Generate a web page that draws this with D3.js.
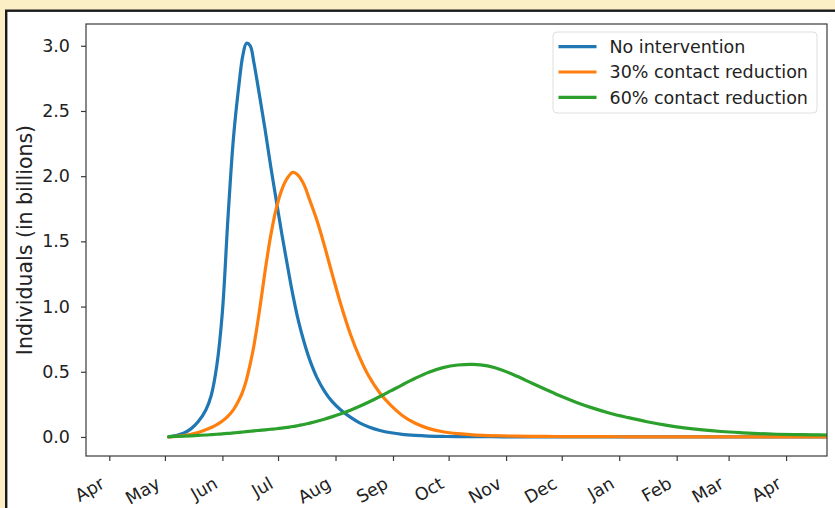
<!DOCTYPE html>
<html>
<head>
<meta charset="utf-8">
<script src="https://cdn.jsdelivr.net/npm/d3@7"></script>
<style>
  html, body { margin: 0; padding: 0; background: #fcefc6; }
  svg { display: block; }
  text { font-family: "DejaVu Sans", sans-serif; fill: #222; }
</style>
</head>
<body>
<svg id="chart" width="835" height="508"></svg>
<script>
// Samples of the modelled number of infected individuals (billions)
const dates = [
  "2020-05-03","2020-05-07","2020-05-11","2020-05-15","2020-05-19","2020-05-23","2020-05-26","2020-05-29",
  "2020-06-01","2020-06-04","2020-06-07","2020-06-10","2020-06-12","2020-06-14","2020-06-16","2020-06-18",
  "2020-06-21","2020-06-24","2020-06-27","2020-06-30","2020-07-03","2020-07-06","2020-07-09","2020-07-12",
  "2020-07-15","2020-07-18","2020-07-22","2020-07-26","2020-07-30","2020-08-04","2020-08-09","2020-08-14",
  "2020-08-19","2020-08-25","2020-08-31","2020-09-06","2020-09-13","2020-09-20","2020-09-28","2020-10-06",
  "2020-10-14","2020-10-22","2020-10-30","2020-11-07","2020-11-15","2020-11-23","2020-12-01","2020-12-09",
  "2020-12-17","2020-12-27","2021-01-06","2021-01-16","2021-01-26","2021-02-05","2021-02-15","2021-02-25",
  "2021-03-07","2021-03-17","2021-03-27","2021-04-06","2021-04-16","2021-04-24"
];

const noIntervention = [
  0.000, 0.010, 0.028, 0.062, 0.118, 0.205, 0.320, 0.550,
  0.960, 1.680, 2.300, 2.710, 2.925, 3.020, 3.000, 2.870,
  2.620, 2.360, 2.080, 1.820, 1.560, 1.320, 1.090, 0.890,
  0.730, 0.595, 0.455, 0.352, 0.275, 0.205, 0.152, 0.108,
  0.077, 0.050, 0.032, 0.020, 0.012, 0.007, 0.004, 0.003,
  0.002, 0.002, 0.001, 0.001, 0.001, 0.001, 0.001, 0.001,
  0.001, 0.001, 0.001, 0.001, 0.001, 0.001, 0.001, 0.001,
  0.001, 0.001, 0.001, 0.001, 0.001, 0.001
];

const reduction30 = [
  0.000, 0.004, 0.010, 0.020, 0.034, 0.055, 0.073, 0.095,
  0.122, 0.160, 0.210, 0.285, 0.350, 0.440, 0.560, 0.700,
  0.970, 1.270, 1.540, 1.750, 1.895, 1.985, 2.030, 2.005,
  1.935, 1.820, 1.660, 1.468, 1.260, 1.010, 0.790, 0.610,
  0.465, 0.335, 0.240, 0.165, 0.105, 0.066, 0.040, 0.025,
  0.016, 0.011, 0.008, 0.006, 0.005, 0.004, 0.003, 0.002,
  0.002, 0.002, 0.001, 0.001, 0.001, 0.001, 0.001, 0.001,
  0.001, 0.001, 0.001, 0.001, 0.001, 0.001
];

const reduction60 = [
  0.003, 0.005, 0.007, 0.009, 0.012, 0.015, 0.018, 0.021,
  0.024, 0.027, 0.031, 0.035, 0.038, 0.041, 0.044, 0.047,
  0.051, 0.055, 0.059, 0.063, 0.068, 0.074, 0.080, 0.088,
  0.096, 0.106, 0.120, 0.136, 0.154, 0.178, 0.205, 0.235,
  0.268, 0.310, 0.355, 0.400, 0.450, 0.495, 0.532, 0.552,
  0.557, 0.545, 0.512, 0.465, 0.412, 0.360, 0.310, 0.265,
  0.225, 0.182, 0.148, 0.117, 0.091, 0.070, 0.054, 0.042,
  0.033, 0.026, 0.021, 0.018, 0.016, 0.015
];

const seriesNames = ["No intervention", "30% contact reduction", "60% contact reduction"];
const seriesColors = ["#1f77b4", "#ff7f0e", "#2ca02c"];
const yTicks = [0, 0.5, 1.0, 1.5, 2.0, 2.5, 3.0];
const yLabel = "Individuals (in billions)";

const parse = d3.utcParse("%Y-%m-%d");
const series = [noIntervention, reduction30, reduction60].map((vals, i) => ({
  name: seriesNames[i],
  color: seriesColors[i],
  points: vals.map((v, j) => ({ date: parse(dates[j]), value: v }))
}));

const svg = d3.select("#chart");

// Figure panel with its dark frame on the yellow page
svg.append("rect")
  .attr("x", 6.2).attr("y", 10.7)
  .attr("width", 840).attr("height", 510)
  .attr("fill", "#ffffff")
  .attr("stroke", "#1b1b1b")
  .attr("stroke-width", 2.4);

const plot = { left: 86, right: 827, top: 24, bottom: 456 };

const x = d3.scaleUtc()
  .domain([new Date(Date.UTC(2020, 2, 19, 10, 30)), new Date(Date.UTC(2021, 3, 23, 1, 30))])
  .range([plot.left, plot.right]);

const y = d3.scaleLinear()
  .domain([-0.146, 3.167])
  .range([plot.bottom, plot.top]);

svg.append("clipPath").attr("id", "plot-clip")
  .append("rect")
  .attr("x", plot.left).attr("y", plot.top)
  .attr("width", plot.right - plot.left).attr("height", plot.bottom - plot.top);

// Curves
const line = d3.line()
  .x(d => x(d.date))
  .y(d => y(d.value))
  .curve(d3.curveCatmullRom.alpha(0.5));

svg.append("g").attr("clip-path", "url(#plot-clip)")
  .selectAll("path")
  .data(series)
  .join("path")
  .attr("d", d => line(d.points))
  .attr("fill", "none")
  .attr("stroke", d => d.color)
  .attr("stroke-width", 3.2)
  .attr("stroke-linejoin", "round")
  .attr("stroke-linecap", "round");

// Axes frame
svg.append("rect")
  .attr("x", plot.left).attr("y", plot.top)
  .attr("width", plot.right - plot.left).attr("height", plot.bottom - plot.top)
  .attr("fill", "none")
  .attr("stroke", "#3a3a3a")
  .attr("stroke-width", 1.2);

// Y axis
const yAxis = svg.append("g")
  .attr("transform", `translate(${plot.left},0)`)
  .call(d3.axisLeft(y).tickValues(yTicks).tickFormat(d3.format(".1f")).tickSize(5).tickPadding(11));
yAxis.select(".domain").remove();
yAxis.selectAll(".tick line").attr("stroke", "#3a3a3a").attr("stroke-width", 1.2);
yAxis.selectAll(".tick text")
  .style("font-family", "DejaVu Sans")
  .style("font-size", "17.5px")
  .attr("fill", "#222");

// X axis with monthly ticks
const monthTicks = d3.utcMonth.range(new Date(Date.UTC(2020, 3, 1)), new Date(Date.UTC(2021, 3, 2)));
const xAxis = svg.append("g")
  .attr("transform", `translate(0,${plot.bottom})`)
  .call(d3.axisBottom(x).tickValues(monthTicks).tickFormat(d3.utcFormat("%b")).tickSize(5));
xAxis.select(".domain").remove();
xAxis.selectAll(".tick line").attr("stroke", "#3a3a3a").attr("stroke-width", 1.2);
xAxis.selectAll(".tick text")
  .attr("y", null).attr("dy", null)
  .attr("text-anchor", "end")
  .attr("transform", "translate(-4,31) rotate(-30)")
  .style("font-family", "DejaVu Sans")
  .style("font-size", "17.5px")
  .attr("fill", "#222");

// Y axis title
svg.append("text")
  .attr("transform", `translate(31.5,${(plot.top + plot.bottom) / 2}) rotate(-90)`)
  .attr("text-anchor", "middle")
  .style("font-size", "20.5px")
  .text(yLabel);

// Legend
const legend = svg.append("g").attr("transform", "translate(553,32)");
legend.append("rect")
  .attr("width", 264).attr("height", 81)
  .attr("rx", 4).attr("ry", 4)
  .attr("fill", "rgba(255,255,255,0.8)")
  .attr("stroke", "#dedede")
  .attr("stroke-width", 1);
const items = legend.selectAll("g.item")
  .data(series)
  .join("g")
  .attr("class", "item")
  .attr("transform", (d, i) => `translate(0,${14.7 + i * 25.3})`);
items.append("line")
  .attr("x1", 5.5).attr("x2", 43.5)
  .attr("stroke", d => d.color)
  .attr("stroke-width", 3.2);
items.append("text")
  .attr("x", 56.5).attr("dy", "0.36em")
  .style("font-size", "17.5px")
  .text(d => d.name);
</script>
</body>
</html>
